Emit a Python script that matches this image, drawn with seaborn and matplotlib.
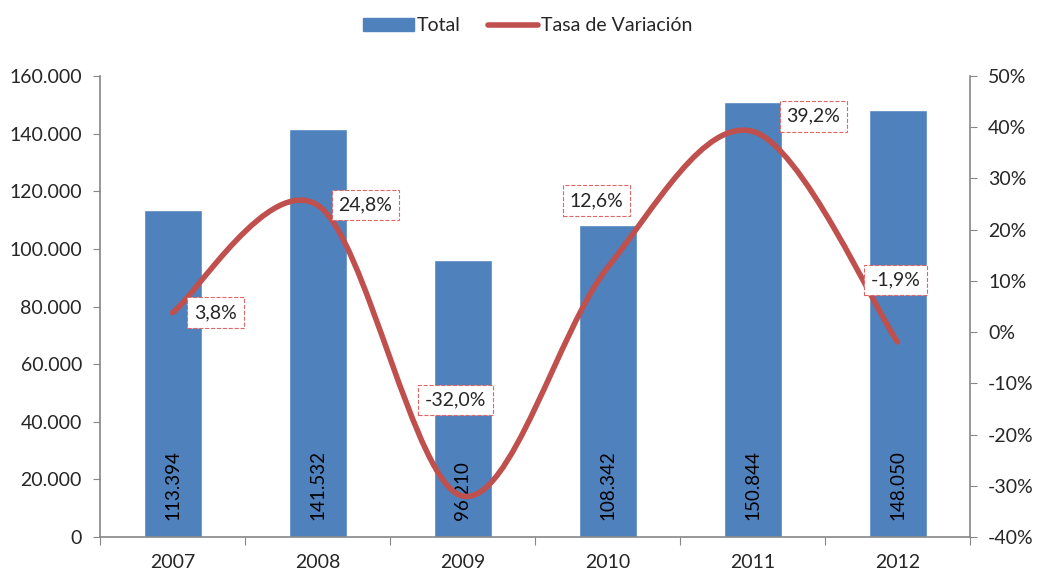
import numpy as np
import pandas as pd
import seaborn as sns
import matplotlib.pyplot as plt
from matplotlib.path import Path
from matplotlib.patches import PathPatch
from matplotlib.lines import Line2D
from matplotlib.ticker import FuncFormatter, FixedLocator

# datos
years = ["2007", "2008", "2009", "2010", "2011", "2012"]
total = [113394, 141532, 96210, 108342, 150844, 148050]
tasa = [3.8, 24.8, -32.0, 12.6, 39.2, -1.9]
tasa_labels = ["3,8%", "24,8%", "-32,0%", "12,6%", "39,2%", "-1,9%"]
# desplazamiento de las etiquetas (pixeles)
label_off = [(43, 0), (48, 0), (-7, 96), (-11, 67), (61, 15), (-2, 62)]

blue = "#4F81BD"
red = "#C0504D"
grey = "#868686"

sns.set_style("white")
plt.rcParams["font.family"] = ["Lato", "DejaVu Sans"]
plt.rcParams["font.size"] = 14

fig = plt.figure(figsize=(10.39, 5.71), dpi=100)
ax = fig.add_axes([100 / 1039, 1 - 537 / 571, 870 / 1039, 461 / 571])

df = pd.DataFrame({"year": years, "total": total})
sns.barplot(data=df, x="year", y="total", color=blue, width=0.4, saturation=1, ax=ax)
ax.set_xlim(-0.5, 5.5)
ax.set_ylim(0, 160000)
ax.set_yticks(range(0, 160001, 20000))
ax.yaxis.set_major_formatter(FuncFormatter(lambda v, p: f"{int(v):,}".replace(",", ".")))
ax.set_xlabel("")
ax.set_ylabel("")

# ticks del eje x en los limites de categoria
ax.xaxis.set_major_locator(FixedLocator(np.arange(-0.5, 6, 1)))
ax.xaxis.set_minor_locator(FixedLocator(np.arange(6)))
ax.set_xticklabels([])
ax.set_xticklabels(years, minor=True)
ax.tick_params(axis="x", which="major", length=6, color=grey, direction="out", bottom=True)
ax.tick_params(axis="x", which="minor", length=0, pad=12, labelsize=14)
ax.tick_params(axis="y", length=5, color=grey, direction="out", left=True, pad=8, labelsize=14)

for s in ["left", "bottom"]:
    ax.spines[s].set_color(grey)
    ax.spines[s].set_linewidth(1.2)
ax.spines["top"].set_visible(False)
ax.spines["right"].set_visible(False)

for i, v in enumerate(total):
    ax.text(i, 6000, f"{v:,}".replace(",", "."), rotation=90, ha="center", va="bottom",
            fontsize=13.5, color="black")

# eje secundario
ax2 = ax.twinx()
ax2.set_ylim(-40, 50)
ax2.set_yticks(range(-40, 51, 10))
ax2.yaxis.set_major_formatter(FuncFormatter(lambda v, p: f"{int(v)}%"))
ax2.tick_params(axis="y", length=5, color=grey, direction="out", right=True, pad=8, labelsize=14)
ax2.spines["right"].set_color(grey)
ax2.spines["right"].set_linewidth(1.2)
for s in ["left", "top", "bottom"]:
    ax2.spines[s].set_visible(False)

# linea suavizada (bezier tipo Excel)
x = np.arange(len(tasa), dtype=float)
y = np.array(tasa, dtype=float)
verts = [(x[0], y[0])]
codes = [Path.MOVETO]
n = len(x)
for i in range(n - 1):
    p0 = np.array([x[max(i - 1, 0)], y[max(i - 1, 0)]])
    p1 = np.array([x[i], y[i]])
    p2 = np.array([x[i + 1], y[i + 1]])
    p3 = np.array([x[min(i + 2, n - 1)], y[min(i + 2, n - 1)]])
    c1 = p1 + (p2 - p0) / 6
    c2 = p2 - (p3 - p1) / 6
    verts += [tuple(c1), tuple(c2), tuple(p2)]
    codes += [Path.CURVE4] * 3
ax2.add_patch(PathPatch(Path(verts, codes), fill=False, ec=red, lw=4, capstyle="round",
                        joinstyle="round", zorder=3))

for i, (v, lab) in enumerate(zip(tasa, tasa_labels)):
    ax2.annotate(lab, xy=(i, v), xytext=label_off[i], textcoords="offset pixels",
                 ha="center", va="center", fontsize=14, zorder=5,
                 bbox=dict(boxstyle="square,pad=0.35", fc="white", ec="#E06666", ls="--", lw=0.8))

handles = [plt.Rectangle((0, 0), 1, 1, color=blue),
           Line2D([0], [0], color=red, lw=4, solid_capstyle="round")]
fig.legend(handles, ["Total", "Tasa de Variación"], loc="upper center", ncol=2, frameon=False,
           bbox_to_anchor=(0.508, 1.0), handlelength=2.6, handleheight=0.7, handletextpad=0.15,
           columnspacing=1.4, fontsize=14)

fig.savefig("out.png", dpi=100)
